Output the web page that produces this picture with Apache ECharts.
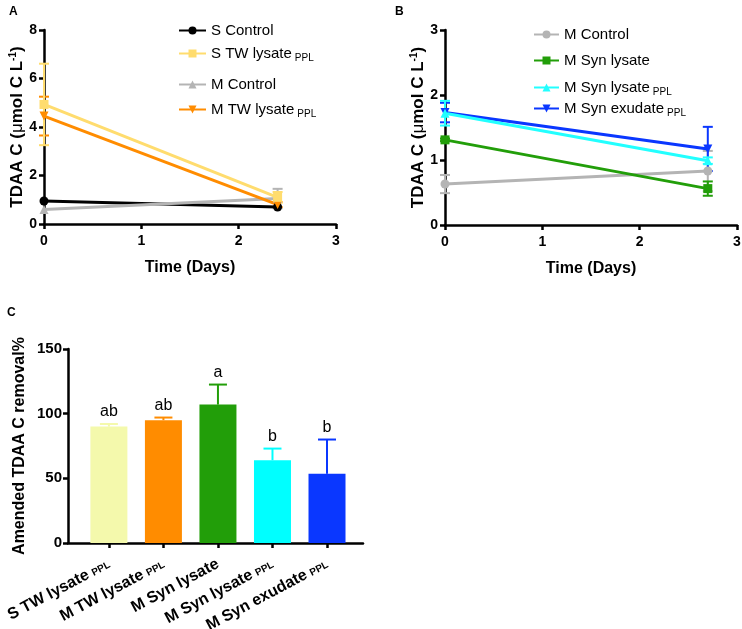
<!DOCTYPE html>
<html><head><meta charset="utf-8">
<script src="https://cdn.jsdelivr.net/npm/echarts@6/dist/echarts.min.js"></script>
<style>html,body{margin:0;padding:0;background:#fff}#c{width:742px;height:629px}</style>
</head><body><div id="c"></div>
<script>
// ---- Panel A data ----
const timeA = [0, 2.4];
const sControl = [0.95, 0.70];
const sControlErr = [0, 0];
const sTW = [4.93, 1.10];
const sTWErr = [1.68, 0.22];
const mControlA = [0.60, 1.05];
const mControlAErr = [0, 0.40];
const mTW = [4.45, 0.80];
const mTWErr = [0.80, 0.10];

// ---- Panel B data ----
const timeB = [0, 2.7];
const mControlB = [0.63, 0.83];
const mControlBErr = [0.14, 0.31];
const mSynLys = [1.31, 0.56];
const mSynLysErr = [0.02, 0.11];
const mSynLysPPL = [1.72, 0.99];
const mSynLysPPLErr = [0.19, 0.05];
const mSynExu = [1.73, 1.17];
const mSynExuErr = [0.15, 0.34];

// ---- Panel C data ----
const catsC = ['S TW lysate', 'M TW lysate', 'M Syn lysate', 'M Syn lysate', 'M Syn exudate'];
const catsCSub = ['PPL', 'PPL', '', 'PPL', 'PPL'];
const removal = [90, 95, 107, 64, 53.5];
const removalErr = [2, 2, 15.5, 9, 26.5];
const letters = ['ab', 'ab', 'a', 'b', 'b'];
const barColors = ['#f4f9ac', '#ff8c00', '#229e09', '#00ffff', '#0a37ff'];

const FONT = 'Liberation Sans, Arial, sans-serif';
const chart = echarts.init(document.getElementById('c'), null, {renderer: 'canvas'});

function errRender(color, cap, oneSided) {
  return function (params, api) {
    const x = api.value(0), m = api.value(1), e = api.value(2);
    if (!e) return null;
    const top = api.coord([x, m + e]);
    const bot = api.coord([x, oneSided ? m : m - e]);
    const st = {stroke: color, lineWidth: 2};
    const ch = [
      {type: 'line', shape: {x1: top[0], y1: top[1], x2: bot[0], y2: bot[1]}, style: st},
      {type: 'line', shape: {x1: top[0] - cap, y1: top[1], x2: top[0] + cap, y2: top[1]}, style: st}
    ];
    if (!oneSided) ch.push({type: 'line', shape: {x1: bot[0] - cap, y1: bot[1], x2: bot[0] + cap, y2: bot[1]}, style: st});
    return {type: 'group', children: ch};
  };
}

function lineSeries(name, xs, ys, errs, color, symbol, rotate, gi) {
  return [
    {type: 'custom', xAxisIndex: gi, yAxisIndex: gi, renderItem: errRender(color, 5, false),
     encode: {x: 0, y: 1}, data: xs.map((x, i) => [x, ys[i], errs[i]]), z: 1, silent: true},
    {type: 'line', name: name, xAxisIndex: gi, yAxisIndex: gi, data: xs.map((x, i) => [x, ys[i]]),
     symbol: symbol, symbolRotate: rotate, symbolSize: 9, showSymbol: true,
     lineStyle: {color: color, width: 3}, itemStyle: {color: color}, z: 2, animation: false}
  ];
}

const rich = {
  n: {fontFamily: FONT, fontSize: 15, color: '#000'},
  s: {fontFamily: FONT, fontSize: 10, color: '#000', padding: [9, 0, 0, 3]}
};
function legendFmt(name) {
  const m = name.match(/^(.*) (PPL)$/);
  if (m) return '{n|' + m[1] + '}{s|' + m[2] + '}';
  return '{n|' + name + '}';
}
function legendAt(name, left, top, w) {
  return {data: [name], left: left, top: top, itemWidth: w, itemHeight: 10, itemGap: 0,
          formatter: legendFmt, textStyle: {rich: rich}, selectedMode: false};
}

const axisLineStyle = {show: true, onZero: false, lineStyle: {color: '#000', width: 2.5}};
const tickStyle = {show: true, length: 5, lineStyle: {color: '#000', width: 2.5}};
const labelStyle = {fontFamily: FONT, fontSize: 14, fontWeight: 'bold', color: '#000'};
const nameStyle = {fontFamily: FONT, fontSize: 16, fontWeight: 'bold', color: '#000'};
const yNameRich = {
  fontFamily: FONT, fontSize: 16, fontWeight: 'bold', color: '#000',
  rich: {
    a: {fontFamily: FONT, fontSize: 17, fontWeight: 'bold', color: '#000'},
    u: {fontFamily: FONT, fontSize: 17, fontWeight: 'normal', color: '#000'},
    sup: {fontFamily: FONT, fontSize: 10, fontWeight: 'bold', color: '#000', padding: [0, 0, 8, 0]}
  }
};
const yName = '{a|TDAA C (}{u|μ}{a|mol C L}{sup|-1}{a|)}';

const catRich = {
  m: {fontFamily: FONT, fontSize: 16, fontWeight: 'bold', color: '#000'},
  p: {fontFamily: FONT, fontSize: 10, fontWeight: 'bold', color: '#000', padding: [3, 0, 0, 4]}
};
const panelFont = {fontFamily: FONT, fontSize: 12, fontWeight: 'bold', color: '#000'};

const option = {
  backgroundColor: '#fff',
  animation: false,
  title: [
    {text: 'A', left: 4, top: 1, textStyle: panelFont},
    {text: 'B', left: 390, top: 1, textStyle: panelFont},
    {text: 'C', left: 2, top: 302, textStyle: panelFont}
  ],
  legend: [
    legendAt('S Control', 173, 18, 27),
    legendAt('S TW lysate PPL', 173, 41, 27),
    legendAt('M Control', 173, 72, 27),
    legendAt('M TW lysate PPL', 173, 97, 27),
    legendAt('M Control ', 528, 22, 25),
    legendAt('M Syn lysate', 528, 48, 25),
    legendAt('M Syn lysate PPL', 528, 75, 25),
    legendAt('M Syn exudate PPL', 528, 96, 25)
  ],
  grid: [
    {left: 44, top: 30, width: 292, height: 194, outerBoundsMode: 'none'},
    {left: 445, top: 30, width: 292, height: 195, outerBoundsMode: 'none'},
    {left: 68, top: 349, width: 295, height: 194, outerBoundsMode: 'none'}
  ],
  xAxis: [
    {gridIndex: 0, type: 'value', min: 0, max: 3, interval: 1, name: 'Time (Days)', nameLocation: 'middle', nameGap: 36,
     nameTextStyle: nameStyle, axisLine: axisLineStyle, axisTick: tickStyle, axisLabel: Object.assign({margin: 10}, labelStyle), splitLine: {show: false}},
    {gridIndex: 1, type: 'value', min: 0, max: 3, interval: 1, name: 'Time (Days)', nameLocation: 'middle', nameGap: 36,
     nameTextStyle: nameStyle, axisLine: axisLineStyle, axisTick: tickStyle, axisLabel: Object.assign({margin: 10}, labelStyle), splitLine: {show: false}},
    {gridIndex: 2, type: 'value', min: -0.75, max: 4.66, axisLine: axisLineStyle,
     axisTick: Object.assign({customValues: [0, 1, 2, 3, 4]}, tickStyle),
     axisLabel: {customValues: [0, 1, 2, 3, 4], rotate: 28, margin: 20,
       formatter: function (v) { const i = Math.round(v); return '{m|' + catsC[i] + '}' + (catsCSub[i] ? '{p|' + catsCSub[i] + '}' : ''); },
       rich: catRich},
     splitLine: {show: false}}
  ],
  yAxis: [
    {gridIndex: 0, type: 'value', min: 0, max: 8, interval: 2, name: yName, nameLocation: 'middle', nameGap: 17,
     nameTextStyle: yNameRich, axisLine: axisLineStyle, axisTick: tickStyle, axisLabel: Object.assign({margin: 7}, labelStyle), splitLine: {show: false}},
    {gridIndex: 1, type: 'value', min: 0, max: 3, interval: 1, name: yName, nameLocation: 'middle', nameGap: 16,
     nameTextStyle: yNameRich, axisLine: axisLineStyle, axisTick: tickStyle, axisLabel: Object.assign({margin: 7}, labelStyle), splitLine: {show: false}},
    {gridIndex: 2, type: 'value', min: 0, max: 150, interval: 50, name: 'Amended TDAA C removal%', nameLocation: 'middle', nameGap: 40,
     nameTextStyle: nameStyle, axisLine: axisLineStyle, axisTick: tickStyle, axisLabel: Object.assign({margin: 6}, labelStyle, {fontSize: 15}), splitLine: {show: false}}
  ],
  series: [].concat(
    lineSeries('S Control', timeA, sControl, sControlErr, '#000000', 'circle', 0, 0),
    lineSeries('M Control', timeA, mControlA, mControlAErr, '#b4b4b4', 'triangle', 0, 0),
    lineSeries('M TW lysate PPL', timeA, mTW, mTWErr, '#ff8c00', 'triangle', 180, 0),
    lineSeries('S TW lysate PPL', timeA, sTW, sTWErr, '#ffdc6e', 'rect', 0, 0),
    lineSeries('M Control ', timeB, mControlB, mControlBErr, '#b4b4b4', 'circle', 0, 1),
    lineSeries('M Syn lysate', timeB, mSynLys, mSynLysErr, '#229e09', 'rect', 0, 1),
    lineSeries('M Syn exudate PPL', timeB, mSynExu, mSynExuErr, '#0a37ff', 'triangle', 180, 1),
    lineSeries('M Syn lysate PPL', timeB, mSynLysPPL, mSynLysPPLErr, '#22ffff', 'triangle', 0, 1),
    [
      {type: 'bar', xAxisIndex: 2, yAxisIndex: 2, barWidth: 37,
       data: removal.map((v, i) => ({value: [i, v], itemStyle: {color: barColors[i]}})), z: 2},
      {type: 'custom', xAxisIndex: 2, yAxisIndex: 2, encode: {x: 0, y: 1}, z: 3,
       data: removal.map((v, i) => [i, v, removalErr[i]]),
       renderItem: function (params, api) {
         const i = params.dataIndex;
         const g = errRender(barColors[i], 9, true)(params, api);
         const top = api.coord([api.value(0), api.value(1) + api.value(2)]);
         g.children.push({type: 'text', x: top[0], y: top[1] - 4,
           style: {text: letters[i], textAlign: 'center', textVerticalAlign: 'bottom',
                   font: '16px ' + FONT, fill: '#000'}});
         return g;
       }}
    ]
  )
};
chart.setOption(option);
</script>
</body></html>
